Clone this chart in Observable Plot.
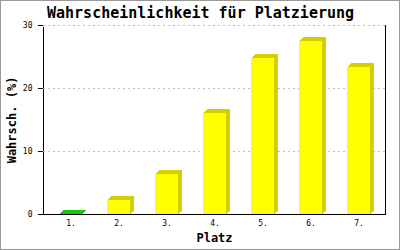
<!DOCTYPE html>
<html>
<head>
<meta charset="utf-8">
<script src="https://cdn.jsdelivr.net/npm/d3@7"></script>
<script src="https://cdn.jsdelivr.net/npm/@observablehq/plot@0.6"></script>
<style>
  html, body { margin: 0; padding: 0; background: white; }
</style>
</head>
<body>
<div id="chart"></div>
<script>
const places = ["1.", "2.", "3.", "4.", "5.", "6.", "7."];
const probs = [0, 2.3, 6.3, 16.1, 24.8, 27.5, 23.4];
const highlightPlace = "1.";
const yTicks = [0, 10, 20, 30];
const gridTicks = [10, 20, 30];
const titleText = "Wahrscheinlichkeit für Platzierung";
const xLabel = "Platz";
const yLabel = "Wahrsch. (%)";

const data = places.map((p, i) => ({place: p, prob: probs[i]}));

const FRONT = "#ffff00", SIDE = "#d4d000", GREEN = "#11cc11";
const frontFill = d => d.place === highlightPlace ? GREEN : FRONT;
const sideFill = d => d.place === highlightPlace ? GREEN : SIDE;
const font = "DejaVu Sans Mono";

const depthLayers = [1, 2, 3, 4].map(k =>
  Plot.barY(data, {x: "place", y: "prob", fill: sideFill, dx: k, dy: -(k - 1), insetTop: -1})
);

const chart = Plot.plot({
  width: 400,
  height: 250,
  marginLeft: 43,
  marginRight: 15,
  marginTop: 25,
  marginBottom: 36,
  style: {
    fontFamily: font,
    fontSize: "8px",
    background: "white",
    color: "black",
    outline: "1px solid #999",
    outlineOffset: "-1px",
    overflow: "visible",
    shapeRendering: "crispEdges"
  },
  x: {domain: places, paddingInner: 0.53, paddingOuter: 0.265, round: true, label: null},
  y: {domain: [0, 30], label: null},
  color: {type: "identity"},
  marks: [
    Plot.frame({stroke: "black"}),
    Plot.ruleY([30], {stroke: "white", strokeWidth: 2}),
    Plot.ruleY(gridTicks, {stroke: "#bbbbbb", strokeDasharray: "2,3"}),
    ...depthLayers,
    Plot.barY(data, {x: "place", y: "prob", fill: frontFill}),
    Plot.ruleY([0], {stroke: "black"}),
    Plot.axisY({ticks: yTicks, tickSize: 5, tickPadding: 6, fontSize: 8, label: null}),
    Plot.axisX({tickSize: 0, tickPadding: 6, fontSize: 8, label: null}),
    Plot.text([titleText], {text: d => d, frameAnchor: "top", lineAnchor: "middle", textAnchor: "middle", dy: -12, dx: -14, fontSize: 15, fontWeight: "bold", fontFamily: font}),
    Plot.text([xLabel], {text: d => d, frameAnchor: "bottom", lineAnchor: "middle", textAnchor: "middle", dy: 24, fontSize: 12, fontWeight: "bold", fontFamily: font}),
    Plot.text([yLabel], {text: d => d, frameAnchor: "left", lineAnchor: "middle", textAnchor: "middle", dx: -31, rotate: -90, fontSize: 12, fontWeight: "bold", fontFamily: font})
  ]
});
document.getElementById("chart").appendChild(chart);
</script>
</body>
</html>
